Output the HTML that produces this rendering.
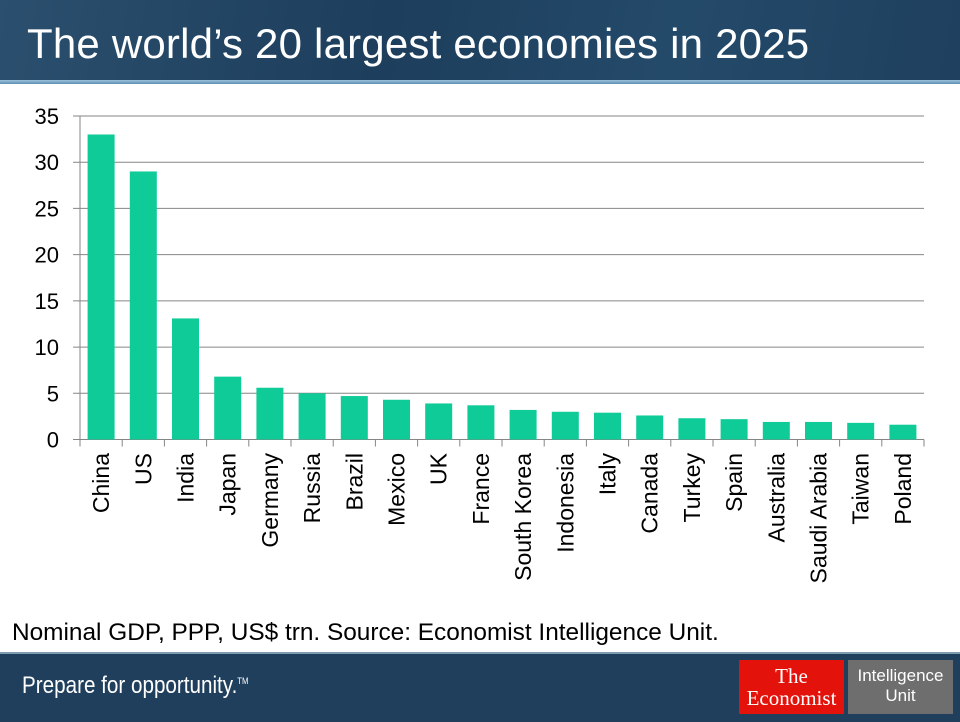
<!DOCTYPE html>
<html><head><meta charset="utf-8"><style>
html,body{margin:0;padding:0;width:960px;height:720px;overflow:hidden;background:#fff;font-family:"Liberation Sans",Arial,sans-serif}
.hdr{position:absolute;left:0;top:0;width:960px;height:80px;background:linear-gradient(100deg,#2b4f6e 0%,#1d3e5c 40%,#244a6a 70%,#1f405e 100%)}
.hline{position:absolute;left:0;top:80px;width:960px;height:4px;background:linear-gradient(#9cc3dc,#5f8fb0)}
.title{position:absolute;left:27px;top:20px;color:#fff;font-size:42px;letter-spacing:0.2px;white-space:nowrap}
.ftr{position:absolute;left:0;top:652px;width:960px;height:68px;background:#1f3f5d;border-top:2px solid #7f9bb0}
.note{position:absolute;left:12px;top:619px;font-size:24.4px;color:#000;white-space:nowrap}
.prep{position:absolute;left:22px;top:672px;color:#fff;font-size:24px;transform:scaleX(0.86);transform-origin:left;white-space:nowrap}
.eco{position:absolute;left:739px;top:660px;width:105px;height:54px;background:#e3120b;color:#fff;font-family:"Liberation Serif",serif;font-size:21px;text-align:center;line-height:22px;padding-top:5px;box-sizing:border-box}
.eiu{position:absolute;left:848px;top:660px;width:105px;height:54px;background:#6e6e6e;color:#fff;font-size:17px;text-align:center;line-height:20px;padding-top:6px;box-sizing:border-box}
</style></head><body>
<div class="hdr"></div>
<div class="hline"></div>
<div class="title">The world’s 20 largest economies in 2025</div>
<svg id="chart" width="960" height="620" style="position:absolute;left:0;top:0"></svg>
<div class="note">Nominal GDP, PPP, US$ trn. Source: Economist Intelligence Unit.</div>
<div class="ftr"></div>
<div class="prep">Prepare for opportunity.<sup style="font-size:9px">TM</sup></div>
<div class="eco">The<br>Economist</div>
<div class="eiu">Intelligence<br>Unit</div>
<script>
const categories=["China","US","India","Japan","Germany","Russia","Brazil","Mexico","UK","France","South Korea","Indonesia","Italy","Canada","Turkey","Spain","Australia","Saudi Arabia","Taiwan","Poland"];
const values=[33.0,29.0,13.1,6.8,5.6,5.0,4.7,4.3,3.9,3.7,3.2,3.0,2.9,2.6,2.3,2.2,1.9,1.9,1.8,1.6];
const yTicks=[0,5,10,15,20,25,30,35];
const NS="http://www.w3.org/2000/svg";
const svg=document.getElementById('chart');
const x0=80,x1=924,yTop=116,yBot=439.5,yMax=35;
const band=(x1-x0)/categories.length;
const y=v=>yBot-(v/yMax)*(yBot-yTop);
const xc=i=>x0+band*(i+0.5);
function mk(t,a){const e=document.createElementNS(NS,t);for(const k in a)e.setAttribute(k,a[k]);svg.appendChild(e);return e;}
yTicks.forEach(t=>{
  const l=mk('line',{x1:x0-7,x2:x1,y1:y(t),y2:y(t),stroke:'#868686','stroke-width':1});
  
  
  const tx=mk('text',{x:x0-21,y:y(t)+8,'text-anchor':'end','font-size':22,fill:'#000','font-family':'Liberation Sans, Arial, sans-serif'});
  tx.textContent=t;
  
  
});
const ax=mk('line',{x1:x0,x2:x0,y1:yTop,y2:yBot+7,stroke:'#868686','stroke-width':1});


categories.forEach((c,i)=>{
  const tk=mk('line',{x1:x0+band*(i+1),x2:x0+band*(i+1),y1:yBot,y2:yBot+7,stroke:'#868686'});
  
  
  const bw=27;
  const r=mk('rect',{x:xc(i)-bw/2,y:y(values[i]),width:bw,height:yBot-y(values[i]),fill:'#0fcb97'});
  
  
  const t=mk('text',{x:0,y:0,'text-anchor':'end','font-size':23,fill:'#000','font-family':'Liberation Sans, Arial, sans-serif',transform:`translate(${xc(i)+8},453) rotate(-90)`});
  t.textContent=c;
  
  
});
</script>
</body></html>
